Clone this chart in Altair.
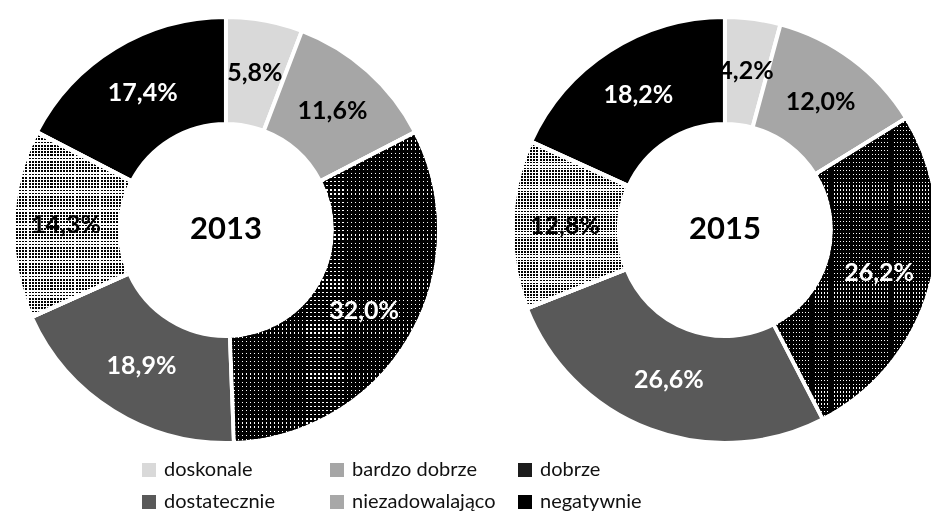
import altair as alt
import pandas as pd

categories = ["doskonale", "bardzo dobrze", "dobrze", "dostatecznie", "niezadowalająco", "negatywnie"]
years = [2013, 2015]
values_2013 = [5.8, 11.6, 32.0, 18.9, 14.3, 17.4]
values_2015 = [4.2, 12.0, 26.2, 26.6, 12.8, 18.2]
colors = ["#d9d9d9", "#a6a6a6", "#1c1c1c", "#595959", "#a8a8a8", "#000000"]

rows = []
for y, vals in zip(years, [values_2013, values_2015]):
    for i, (c, v) in enumerate(zip(categories, vals)):
        rows.append({"year": y, "cat": c, "order": i, "value": v,
                     "label": f"{v:.1f}".replace(".", ",") + "%"})
df = pd.DataFrame(rows)
years_df = pd.DataFrame({"year": years, "label": [str(y) for y in years]})


def stripes(n, bg, fg, frac, horizontal):
    stops = []
    for i in range(n):
        a = round(i / n, 5)
        b = round((i + frac) / n, 5)
        c = round((i + 1) / n, 5)
        stops += [{"offset": a, "color": fg}, {"offset": b, "color": fg},
                  {"offset": b, "color": bg}, {"offset": c, "color": bg}]
    return {"gradient": "linear", "stops": stops,
            "x1": 0, "y1": 0,
            "x2": 0 if horizontal else 1,
            "y2": 1 if horizontal else 0}


OUTER, INNER = 213, 106
xenc = alt.X("year:N", scale=alt.Scale(type="point", padding=0.4249, align=0.514), axis=None)
yenc = alt.Y("row:N", scale=alt.Scale(type="point", range=[0, 444]), axis=None)
theta_scale = alt.Scale(domain=[0, 100], range=[0, 6.283185307179586])

base = alt.Chart(df).transform_window(
    cum="sum(value)", groupby=["year"], sort=[alt.SortField("order")]
).transform_calculate(
    start="datum.cum - datum.value", mid="datum.cum - datum.value / 2", row="'a'"
)

arcs = base.mark_arc(outerRadius=OUTER, innerRadius=INNER, stroke="white", strokeWidth=4).encode(
    x=xenc, y=yenc,
    theta=alt.Theta("start:Q", scale=theta_scale),
    theta2="cum:Q",
    color=alt.Color("cat:N", scale=alt.Scale(domain=categories, range=colors),
                    sort=categories,
                    legend=alt.Legend(title=None, orient="none", legendX=131, legendY=452,
                                      direction="horizontal",
                                      columns=3, symbolType="square", symbolSize=196,
                                      symbolStrokeWidth=0, labelFont="Lato", labelFontSize=20,
                                      labelColor="#111111", labelOffset=5, columnPadding=19,
                                      rowPadding=12, gridAlign="all", padding=0)),
)


def overlay(cat, fill, blend=None):
    kw = dict(outerRadius=OUTER, innerRadius=INNER, stroke="white", strokeWidth=4, fill=fill)
    if blend:
        kw["blend"] = blend
    return base.transform_filter(alt.datum.cat == cat).mark_arc(**kw).encode(
        x=xenc, y=yenc,
        theta=alt.Theta("start:Q", scale=theta_scale),
        theta2="cum:Q",
    )


dob_v = overlay("dobrze", stripes(52, "#000000", "#ffffff", 0.3, False))
dob_h = overlay("dobrze", stripes(76, "#000000", "#ffffff", 0.3, True), "multiply")
nie_v = overlay("niezadowalająco", stripes(38, "#ffffff", "#000000", 0.65, False))
nie_h = overlay("niezadowalająco", stripes(58, "#ffffff", "#000000", 0.55, True), "screen")

labels = base.mark_text(radius=160, font="Lato", fontWeight="bold", fontSize=25).encode(
    x=xenc, y=yenc,
    theta=alt.Theta("mid:Q", scale=theta_scale),
    text="label:N",
    color=alt.condition(
        "indexof(['dobrze','dostatecznie','negatywnie'], datum.cat) >= 0",
        alt.value("white"), alt.value("black")),
)

centers = alt.Chart(years_df).transform_calculate(row="'a'").mark_text(
    font="Lato", fontWeight="bold", fontSize=31, color="black"
).encode(x=xenc, y=yenc, text="label:N")

chart = alt.layer(arcs, dob_v, dob_h, nie_v, nie_h, labels, centers).properties(
    width=923, height=505, autosize=alt.AutoSizeParams(type="none"), padding=0
).configure_view(stroke=None)

chart.save("out.html", embed_options={"renderer": "svg", "actions": False})
